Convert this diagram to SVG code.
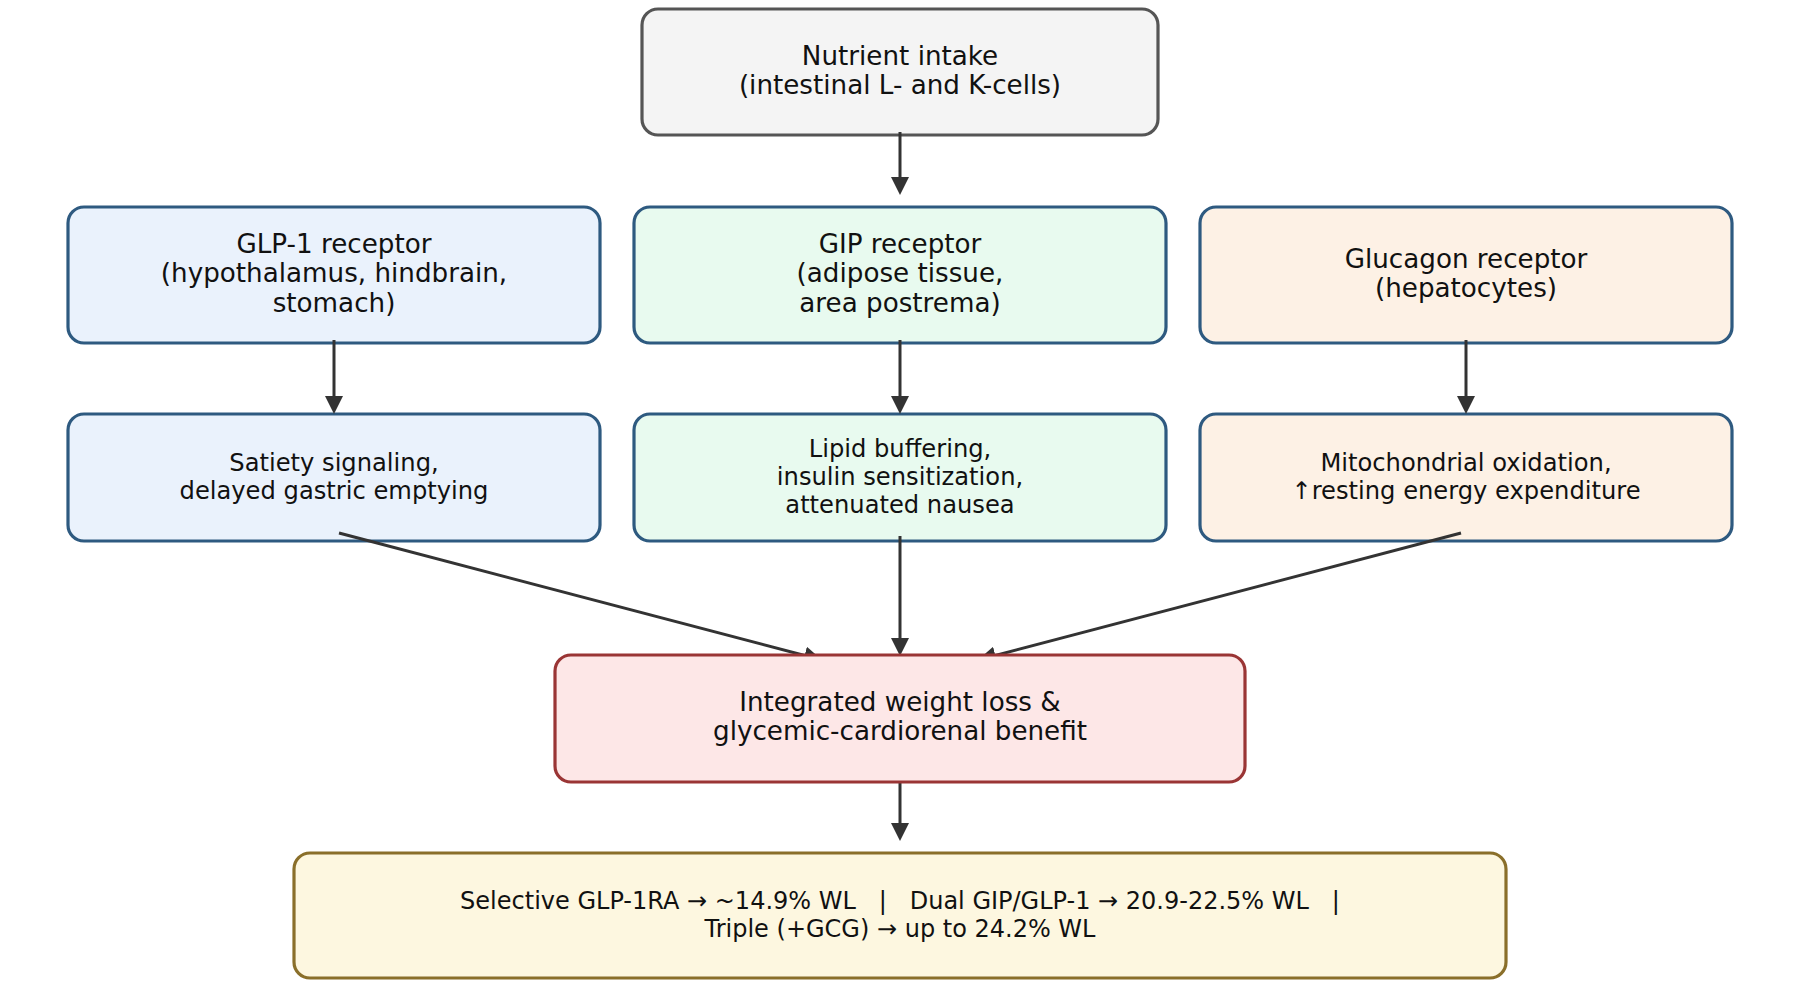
<svg xmlns="http://www.w3.org/2000/svg" width="1800" height="1006" viewBox="0 0 1800 1006">
<defs>
<style>
.box{stroke-width:3.2}
.t{font-family:"DejaVu Sans","Liberation Sans",sans-serif;fill:#111;text-anchor:middle}
.f26{font-size:26.2px}
.f24{font-size:24.2px}
.f24b{font-size:24px}
.grey{fill:#f4f4f4;stroke:#555555}
.blue{fill:#eaf2fc;stroke:#2e5a80}
.green{fill:#e8faef;stroke:#2e5a80}
.orange{fill:#fdf1e5;stroke:#2e5a80}
.red{fill:#fde7e7;stroke:#9a3535}
.gold{fill:#fdf7e0;stroke:#8a6f2a}
.conn{stroke:#333333;stroke-width:3;fill:none}
</style>
<marker id="ah" viewBox="0 0 18 18" markerWidth="18" markerHeight="18" refX="10" refY="9" orient="auto" markerUnits="userSpaceOnUse">
<path d="M0,0 L18,9 L0,18 z" fill="#333333"/>
</marker>
</defs>
<rect width="1800" height="1006" fill="#ffffff"/>
<g id="nutrient">
<rect class="box grey" x="642" y="9" width="516" height="126" rx="16"/>
<text class="t f26" x="900" y="64.5">Nutrient intake</text>
<text class="t f26" x="900" y="94">(intestinal L- and K-cells)</text>
</g>
<g id="glp1r">
<rect class="box blue" x="68" y="207" width="532" height="136" rx="16"/>
<text class="t f26" x="334" y="252.5">GLP-1 receptor</text>
<text class="t f26" x="334" y="282">(hypothalamus, hindbrain,</text>
<text class="t f26" x="334" y="311.5">stomach)</text>
</g>
<g id="gipr">
<rect class="box green" x="634" y="207" width="532" height="136" rx="16"/>
<text class="t f26" x="900" y="252.5">GIP receptor</text>
<text class="t f26" x="900" y="282">(adipose tissue,</text>
<text class="t f26" x="900" y="311.5">area postrema)</text>
</g>
<g id="gcgr">
<rect class="box orange" x="1200" y="207" width="532" height="136" rx="16"/>
<text class="t f26" x="1466" y="267.5">Glucagon receptor</text>
<text class="t f26" x="1466" y="297">(hepatocytes)</text>
</g>
<g id="satiety">
<rect class="box blue" x="68" y="414" width="532" height="127" rx="16"/>
<text class="t f24" x="334" y="471">Satiety signaling,</text>
<text class="t f24" x="334" y="499">delayed gastric emptying</text>
</g>
<g id="lipid">
<rect class="box green" x="634" y="414" width="532" height="127" rx="16"/>
<text class="t f24" x="900" y="457">Lipid buffering,</text>
<text class="t f24" x="900" y="485">insulin sensitization,</text>
<text class="t f24" x="900" y="513">attenuated nausea</text>
</g>
<g id="mito">
<rect class="box orange" x="1200" y="414" width="532" height="127" rx="16"/>
<text class="t f24" x="1466" y="471">Mitochondrial oxidation,</text>
<text class="t f24" x="1466" y="499">↑resting energy expenditure</text>
</g>
<g id="connectors">
<line class="conn" x1="900" y1="132" x2="900" y2="187" marker-end="url(#ah)"/>
<line class="conn" x1="334" y1="340" x2="334" y2="406" marker-end="url(#ah)"/>
<line class="conn" x1="900" y1="340" x2="900" y2="406" marker-end="url(#ah)"/>
<line class="conn" x1="1466" y1="340" x2="1466" y2="406" marker-end="url(#ah)"/>
<line class="conn" x1="339" y1="533" x2="814.3" y2="658" marker-end="url(#ah)"/>
<line class="conn" x1="900" y1="536" x2="900" y2="648" marker-end="url(#ah)"/>
<line class="conn" x1="1461" y1="533" x2="985.7" y2="658" marker-end="url(#ah)"/>
<line class="conn" x1="900" y1="778" x2="900" y2="833" marker-end="url(#ah)"/>
</g>
<g id="integrated">
<rect class="box red" x="555" y="655" width="690" height="127" rx="16"/>
<text class="t f26" x="900" y="711">Integrated weight loss &amp;</text>
<text class="t f26" x="900" y="740">glycemic-cardiorenal benefit</text>
</g>
<g id="outcomes">
<rect class="box gold" x="294" y="853" width="1212" height="125" rx="16"/>
<text class="t f24b" x="900" y="909" xml:space="preserve">Selective GLP-1RA → ~14.9% WL   |   Dual GIP/GLP-1 → 20.9-22.5% WL   |</text>
<text class="t f24b" x="900" y="937">Triple (+GCG) → up to 24.2% WL</text>
</g>
</svg>
